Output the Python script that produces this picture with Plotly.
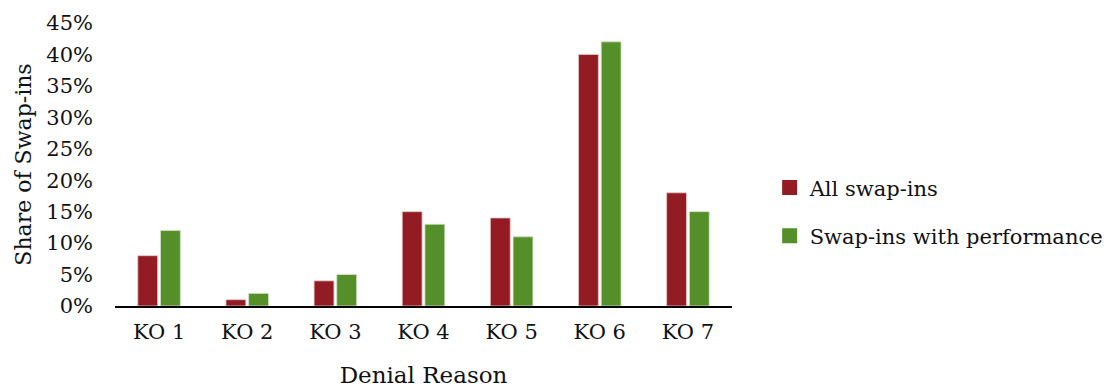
import plotly.graph_objects as go

categories = ["KO 1", "KO 2", "KO 3", "KO 4", "KO 5", "KO 6", "KO 7"]
all_swapins = [0.08, 0.01, 0.04, 0.15, 0.14, 0.40, 0.18]
swapins_perf = [0.12, 0.02, 0.05, 0.13, 0.11, 0.42, 0.15]
y_ticks = [0, 0.05, 0.10, 0.15, 0.20, 0.25, 0.30, 0.35, 0.40, 0.45]
series_names = ["All swap-ins", "Swap-ins with performance"]

FONT = "DejaVu Serif"
RED = "#931B23"
GREEN = "#548F2A"

fig = go.Figure()
fig.add_trace(go.Bar(x=categories, y=all_swapins, name=series_names[0], showlegend=False,
                     marker=dict(color=RED, line=dict(color="#E8C8CA", width=0.8))))
fig.add_trace(go.Bar(x=categories, y=swapins_perf, name=series_names[1], showlegend=False,
                     marker=dict(color=GREEN, line=dict(color="#CFE3C2", width=0.8))))
# legend entries with larger square swatches
for nm, col, grp in [(series_names[0], RED, "a"), (series_names[1], GREEN, "b")]:
    fig.add_trace(go.Scatter(x=[None], y=[None], mode="markers", name=nm, legendgroup=grp,
                             marker=dict(symbol="square", size=15, color=col)))

fig.update_layout(
    width=1112, height=389,
    margin=dict(l=107, r=374, t=15, b=91),
    paper_bgcolor="white", plot_bgcolor="white",
    barmode="group", bargap=0.485, bargroupgap=0.125,
    font=dict(family=FONT, size=21, color="#111111"),
    legend=dict(x=1.061, xanchor="left", y=0.333, yanchor="middle",
                font=dict(family=FONT, size=21, color="#111111"),
                tracegroupgap=18, itemwidth=30),
    xaxis=dict(showline=True, linecolor="black", linewidth=2, ticks="", automargin=False,
               ticklabelstandoff=6,
               tickfont=dict(size=21), title=dict(text="Denial Reason", font=dict(size=23), standoff=24)),
    yaxis=dict(range=[0, 0.45], tickvals=y_ticks, tickformat=".0%", showgrid=False, automargin=False,
               zeroline=False, showline=False, ticks="", ticklabelstandoff=21,
               tickfont=dict(size=21),
               title=dict(text="Share of Swap-ins", font=dict(size=22), standoff=8)),
)

fig.write_html("out.html")
